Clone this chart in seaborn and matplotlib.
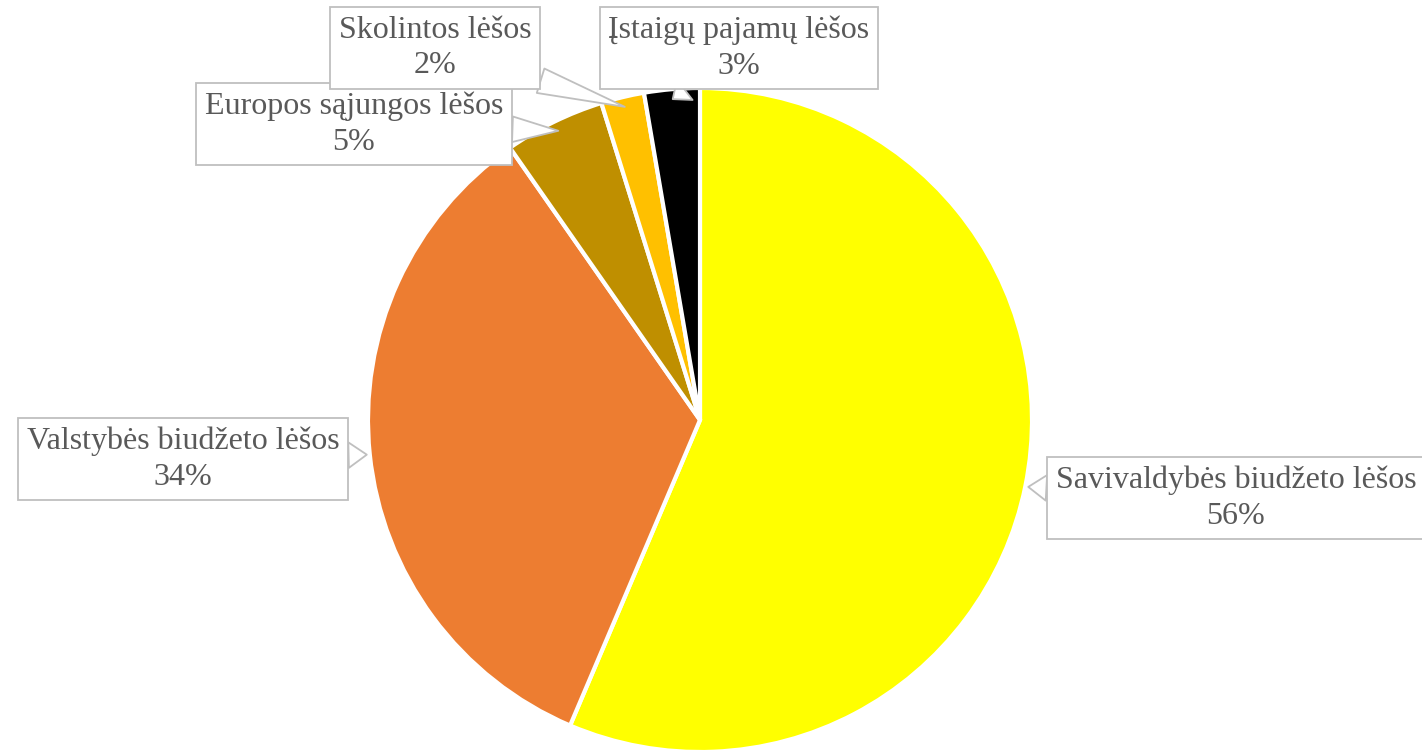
import numpy as np
import matplotlib.pyplot as plt
import seaborn as sns

sns.set_theme(style="white")
plt.rcParams['font.family'] = ['Liberation Serif', 'DejaVu Serif']

# Duomenys
kategorijos = ['Savivaldybės biudžeto lėšos', 'Valstybės biudžeto lėšos',
               'Europos sąjungos lėšos', 'Skolintos lėšos', 'Įstaigų pajamų lėšos']
reiksmes = [56.4, 33.9, 4.9, 2.1, 2.7]
spalvos = ['#FFFF00', '#ED7D31', '#BF8F00', '#FFC000', '#000000']

# etikečių vietos (pikseliais, y žemyn)
etik_x = [1236, 183, 354, 435, 739]
etik_y = [498, 459, 124, 48, 48]

W, H = 1422, 750
fig = plt.figure(figsize=(W / 100, H / 100), dpi=100)
ax = fig.add_axes([0, 0, 1, 1])

cx, cy, r = 700, H - 420, 332
wedges, _ = ax.pie(reiksmes, colors=spalvos, startangle=90, counterclock=False,
                   center=(cx, cy), radius=r, frame=True,
                   wedgeprops=dict(edgecolor='white', linewidth=3))
ax.set_xlim(0, W)
ax.set_ylim(0, H)
ax.set_aspect('equal')
ax.axis('off')

suma = sum(reiksmes)
for w, kat, v, tx, ty in zip(wedges, kategorijos, reiksmes, etik_x, etik_y):
    ang = np.deg2rad((w.theta1 + w.theta2) / 2)
    rr = r + 3 if v > 10 else r * 0.97
    px = cx + rr * np.cos(ang)
    py = cy + rr * np.sin(ang)
    ax.annotate(f"{kat}\n{v / suma * 100:.0f}%", xy=(px, py), xytext=(tx, H - ty),
                ha='center', va='center', fontsize=23, color='#595959',
                linespacing=1.3,
                bbox=dict(boxstyle='square,pad=0.27', fc='white', ec='#BFBFBF', lw=1.3),
                arrowprops=dict(arrowstyle='wedge,tail_width=0.8,shrink_factor=0.5',
                                fc='white', ec='#BFBFBF', lw=1.3,
                                shrinkA=0, shrinkB=0))

fig.savefig('out.png', dpi=100)
